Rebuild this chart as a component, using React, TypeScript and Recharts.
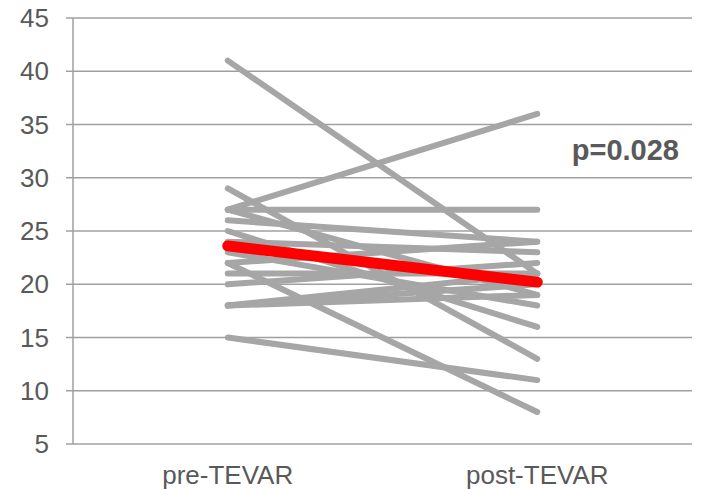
import React from 'react'
import { LineChart, Line, XAxis, YAxis, CartesianGrid } from 'recharts'

const categories = ['pre-TEVAR', 'post-TEVAR']
const preValues = [41, 29, 27, 27, 27, 26, 25, 24, 23, 22, 22, 21, 20, 18, 18, 18, 15]
const postValues = [21, 13, 36, 27, 19, 24, 16, 23, 18, 8, 24, 21, 22, 20, 19, 21, 11]
const meanValues = [23.6, 20.2]
const yTicks = [5, 10, 15, 20, 25, 30, 35, 40, 45]
const pValueLabel = 'p=0.028'

const data = categories.map((name, i) => {
  const row: Record<string, number | string> = { x: i + 0.5, name }
  const values = i === 0 ? preValues : postValues
  values.forEach((v, j) => {
    row['s' + j] = v
  })
  row.mean = meanValues[i]
  return row
})

const gridColor = '#a0a0a0'
const textColor = '#595959'
const font = '"Liberation Sans", Arial, sans-serif'

export default function App() {
  return (
    <div style={{ position: 'absolute', left: 0, top: 0, width: 702, height: 489, fontFamily: font }}>
      <LineChart width={702} height={489} data={data} margin={{ top: 18, right: 10, bottom: 0, left: 0 }}>
        <CartesianGrid vertical={false} stroke={gridColor} strokeWidth={1.5} />
        <XAxis
          xAxisId="frame"
          dataKey="x"
          type="number"
          domain={[0, 2]}
          ticks={[0, 1, 2]}
          tick={false}
          tickSize={8}
          height={0}
          stroke={gridColor}
          strokeWidth={1.5}
        />
        <XAxis
          xAxisId="labels"
          dataKey="x"
          type="number"
          domain={[0, 2]}
          ticks={[0.5, 1.5]}
          tickFormatter={(v: number) => categories[Math.floor(v)]}
          axisLine={false}
          tickLine={false}
          tickSize={0}
          tickMargin={22}
          height={45}
          tick={{ fill: textColor, fontSize: 26, fontFamily: font }}
        />
        <YAxis
          domain={[5, 45]}
          ticks={yTicks}
          width={73}
          tickSize={7}
          tickMargin={17}
          stroke={gridColor}
          strokeWidth={1.5}
          tick={{ fill: textColor, fontSize: 26, fontFamily: font }}
        />
        {preValues.map((_, j) => (
          <Line
            key={j}
            xAxisId="frame"
            dataKey={'s' + j}
            stroke="#a6a6a6"
            strokeWidth={6}
            strokeLinecap="round"
            dot={false}
            activeDot={false}
            isAnimationActive={false}
          />
        ))}
        <Line
          xAxisId="frame"
          dataKey="mean"
          stroke="#ff0000"
          strokeWidth={11}
          strokeLinecap="round"
          dot={false}
          activeDot={false}
          isAnimationActive={false}
        />
      </LineChart>
      <div
        style={{
          position: 'absolute',
          right: 23,
          top: 136,
          fontSize: 29,
          fontWeight: 'bold',
          color: textColor,
          lineHeight: '29px',
        }}
      >
        {pValueLabel}
      </div>
    </div>
  )
}
